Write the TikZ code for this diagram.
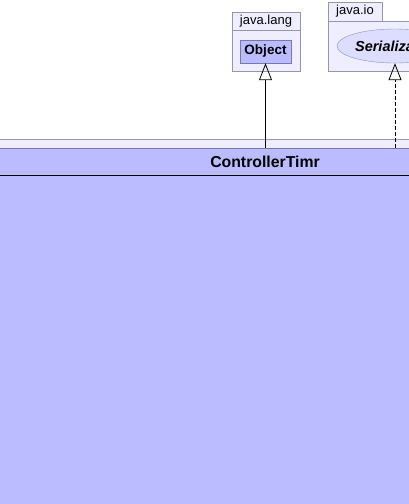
\documentclass[tikz,border=0pt]{standalone}
\usepackage{fontspec}
\setmainfont{Liberation Sans}
\usepackage{tikz}
\usetikzlibrary{arrows.meta, positioning, shapes.geometric}
\definecolor{PkgFill}{RGB}{238,238,255}
\definecolor{PkgLine}{RGB}{150,150,170}
\definecolor{ClassFill}{RGB}{187,187,255}
\definecolor{ClassLine}{RGB}{120,120,170}
\definecolor{IfaceFill}{RGB}{221,221,255}
\definecolor{IfaceLine}{RGB}{140,140,200}

\begin{document}
\begin{tikzpicture}[x=1pt, y=-1pt,
  pkg/.style={draw=PkgLine, fill=PkgFill},
  pkglabel/.style={font=\fontsize{13}{15}\selectfont, inner sep=0pt},
  classbox/.style={draw=ClassLine, fill=ClassFill, minimum width=51pt,
                   minimum height=23pt, inner sep=0pt,
                   font=\fontsize{13.5}{15}\selectfont\bfseries},
  iface/.style={ellipse, draw=IfaceLine, fill=IfaceFill, minimum width=116pt,
                minimum height=34pt, inner sep=0pt,
                font=\fontsize{14.5}{17}\selectfont\bfseries\itshape},
  title/.style={font=\fontsize{15.8}{18}\selectfont\bfseries, inner sep=0pt},
  inherit/.style={-{Triangle[open, length=17pt, width=13pt]}, black, thick},
  realize/.style={inherit, dash pattern=on 4pt off 2pt},
]
\useasboundingbox (0,0) rectangle (409,504);
\clip (0,0) rectangle (409,504);
% Package of ControllerTimr
\draw[pkg] (-10,139) rectangle (420,520);
\draw[draw=ClassLine, fill=ClassFill] (-10,148) rectangle (420,520);
\draw[black, thick] (-10,175) -- (420,175);
\node[title] (timr) at (265,162) {ControllerTimr};
\coordinate (timrobj) at (265.5,148);
\coordinate (timrser) at (395,148);
% java.lang
\draw[pkg] (232,12.5) rectangle (300,71);
\draw[PkgLine] (232,30.5) -- (300,30.5);
\node[pkglabel] (lang) at (266,21.5) {java.lang};
\node[classbox] (object) at (265.5,51.5) {Object};
% java.io
\draw[pkg] (328,2) rectangle (382,21);
\draw[pkg] (328,21) rectangle (465,71);
\node[pkglabel] (io) at (355,11.5) {java.io};
\node[iface] (serial) at (395,46) {Serializable};
% Connectors
\draw[inherit] (timrobj) -- (object.south);
\draw[realize] (timrser) -- (serial.south);
\end{tikzpicture}
\end{document}
